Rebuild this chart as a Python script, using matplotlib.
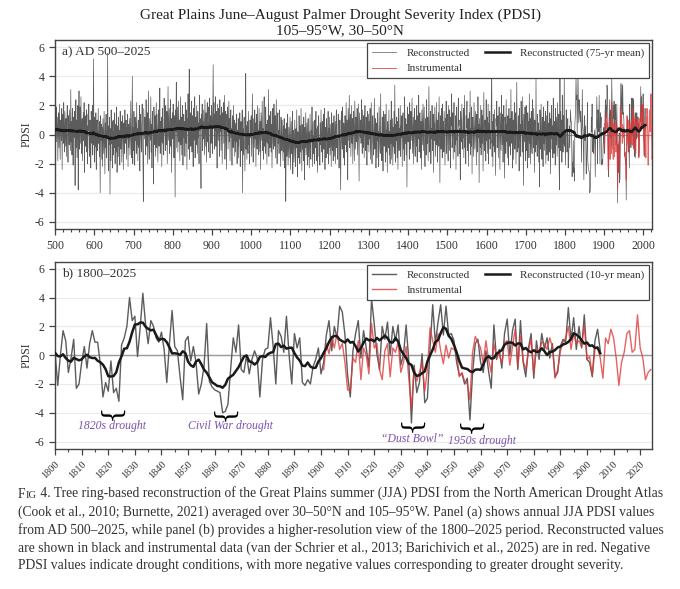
import numpy as np
import pandas as pd
import matplotlib
matplotlib.use("Agg")
import matplotlib.pyplot as plt
from matplotlib.ticker import MultipleLocator

plt.rcParams['font.family'] = ['Liberation Serif', 'DejaVu Serif']
plt.rcParams['axes.unicode_minus'] = False

# reconstructed JJA PDSI, AD 500-1799 (one row per decade)
recon_early = [
    2.3, -1.6, 0.8, 1.9, -0.5, 0.4, 1.2, -1.8, 0.6, 1.5,
    -0.9, 2.1, 0.3, -1.7, 1.0, 0.7, -0.4, 1.8, -2.4, 0.9,
    1.4, -0.6, 2.2, 0.2, -1.2, 1.6, 0.5, -0.8, 1.1, -1.5,
    0.8, 2.0, -0.3, -1.9, 1.3, 0.6, -0.7, 1.7, 0.1, -1.1,
    3.1, -0.5, 0.9, -1.4, 1.8, 0.4, -2.1, 1.2, 0.7, -0.2,
    1.6, -3.5, 0.3, 2.4, -0.9, 1.0, -1.6, 0.8, 2.0, -3.8,
    0.5, 3.0, -1.0, 0.2, 1.9, -0.6, 2.6, -1.3, 0.4, 1.1,
    -1.8, 0.7, 1.5, -0.4, 2.2, -2.6, 0.9, 1.3, -0.8, 0.2,
    1.7, -1.2, 0.6, -2.0, 1.4, 0.3, 2.1, -0.9, -1.5, 1.0,
    0.1, -2.3, 1.6, 0.8, -0.6, 2.0, -1.4, 0.4, 5.2, -0.7,
    1.2, -1.9, 0.3, -0.8, 1.5, -2.4, 0.6, 1.0, -1.1, -0.3,
    1.8, -0.6, 0.2, -1.5, 0.9, -4.0, 1.3, -0.4, 0.7, -1.7,
    0.5, -2.2, 1.1, 0.0, -1.3, 1.6, -0.5, -2.7, 0.8, -0.9,
    1.4, -1.6, 0.3, -0.2, 5.6, -1.1, -2.5, 0.6, -0.7, 1.2,
    -4.1, 0.4, -1.8, 1.7, -0.6, 0.9, -2.3, -0.1, 1.0, -1.4,
    0.2, -0.9, 1.5, -2.0, -0.3, 0.7, -1.2, 1.9, -2.6, -0.4,
    0.6, -1.5, 1.2, -0.8, 0.3, -2.1, 1.6, -0.5, -1.0, 0.9,
    -1.9, 0.4, 1.3, -0.7, -2.4, 0.8, 0.1, -1.3, 1.7, -0.2,
    -0.6, 1.0, -1.7, 0.5, -0.3, 1.4, -2.2, 0.7, -0.9, 0.2,
    1.1, -1.4, 0.3, 2.3, -0.8, -1.6, 0.9, 4.0, -2.0, 0.5,
    -1.1, 1.6, 0.2, -2.1, 1.2, -0.4, 0.8, -1.3, 2.2, -0.7,
    0.4, -1.8, 1.0, 0.6, -0.9, 2.0, -2.5, 0.3, 1.4, -0.2,
    -1.2, 0.9, 2.1, -0.5, -1.6, -4.6, 1.8, 0.7, -0.3, 1.2,
    0.6, -1.4, 2.4, -0.1, -0.8, 1.5, -2.0, 0.9, 3.0, -0.6,
    -1.7, 1.1, 0.3, -0.4, 2.6, -1.2, 0.7, -2.3, 1.6, 0.5,
    0.2, -3.4, 1.9, 0.8, -0.7, 1.3, -1.5, 0.4, 2.2, -0.9,
    1.4, -0.3, -1.9, 0.6, 1.7, -0.8, 0.2, 3.2, -1.3, 0.9,
    -0.5, 1.2, -2.2, 0.7, 1.8, -0.6, 0.3, -1.4, 2.5, 0.1,
    1.0, -1.1, 2.0, 0.4, -0.7, 1.6, -2.0, 0.9, 3.3, -0.4,
    0.6, 1.8, -1.3, 0.2, 2.4, -0.8, 1.1, -2.6, 0.7, 1.5,
    -0.3, 2.1, 0.5, -1.6, 1.3, 0.8, -4.3, 1.7, 0.2, 3.6,
    -0.9, 0.4, 1.9, -1.2, 0.6, 2.3, -0.5, 1.0, -1.8, 0.3,
    2.6, -0.7, 1.2, -1.4, 0.8, 2.0, -2.1, 0.5, 1.4, -0.2,
    0.9, -1.5, 2.2, 0.3, -0.6, 1.7, -2.4, 1.1, 0.4, 2.8,
    -1.0, 0.6, 4.5, -1.7, 0.9, 1.5, -0.8, 0.2, 2.3, -1.2,
    1.3, 0.5, -2.2, 1.8, -0.4, 0.7, 2.6, -1.6, 0.1, 1.2,
    -0.7, 2.0, 0.4, -1.3, 1.6, -0.2, 0.8, -2.0, 2.7, 0.3,
    1.1, -0.9, -3.7, 1.4, 0.6, 2.1, -1.1, 0.9, -0.3, 1.7,
    0.2, -1.4, 2.4, 0.7, -0.8, 1.5, -1.9, 1.0, 2.2, -0.5,
    0.8, -1.2, 1.9, 0.4, 2.5, -1.6, 0.3, 1.3, -0.6, 2.0,
    0.9, -1.3, 1.7, 4.8, 0.5, 2.2, -1.0, 1.4, 0.3, 2.6,
    -0.8, 1.6, 0.4, -2.3, 2.1, 0.9, -0.4, 1.8, 0.6, -1.5,
    2.4, 0.2, 1.3, -1.1, 1.9, 0.7, -2.0, 1.5, 0.4, 2.2,
    -0.6, 1.2, 2.7, -1.7, 0.8, 1.6, -0.3, -2.4, 1.4, 0.5,
    1.9, -1.0, 0.6, 2.3, -0.5, 1.1, -1.8, 0.9, 1.7, -0.2,
    0.4, -2.1, 1.3, 0.7, -0.9, 2.0, -0.4, 1.0, -1.5, 0.6,
    -1.2, 0.8, -0.5, 1.4, -2.0, 0.3, -0.8, 1.1, -1.6, 0.5,
    -0.3, 1.5, -2.2, 0.2, 0.9, -1.1, -0.6, 1.7, -4.0, 0.4,
    -1.4, 0.7, 1.2, -0.9, -2.5, 0.3, 4.2, -1.0, 0.6, -1.7,
    0.9, -0.4, -1.3, 1.6, -0.7, 0.1, -2.0, 1.0, -0.2, 0.8,
    1.3, -1.5, 0.4, 2.8, -0.6, -1.9, 1.1, 0.2, -0.9, 1.7,
    -0.3, 0.8, -2.2, 1.4, 0.5, -1.0, 2.0, -0.7, 0.3, -1.4,
    1.8, 0.1, -1.2, 0.9, -2.4, 1.5, 0.6, -0.4, 2.3, -1.1,
    0.4, -1.7, 1.2, 2.6, -0.8, 0.2, -1.3, 1.9, -0.5, 0.7,
    -2.0, 1.0, 0.3, -0.6, 3.1, -1.5, 0.5, 1.3, -0.9, -0.2,
    1.6, -1.2, 0.7, -2.3, 0.4, 1.8, -0.5, -1.0, 2.1, 0.2,
    -0.8, 1.3, -1.6, 0.6, 2.4, -0.3, -2.0, 0.9, 1.5, -0.6,
    0.3, -1.3, 1.7, 0.8, -0.7, -2.2, 1.2, 0.5, -1.1, 1.0,
    -0.4, -1.8, 0.6, -1.2, 1.1, -2.3, -0.6, 0.4, -4.6, -0.9,
    0.8, -1.5, -0.3, 1.4, -2.1, -0.7, 0.5, -1.6, -0.2, 1.2,
    -2.4, -0.5, 0.9, -1.3, -0.8, 1.6, -2.7, -0.1, 0.3, -1.9,
    -0.6, 1.0, -1.4, -2.2, 0.4, -0.9, 1.7, -1.1, -2.9, 0.2,
    -0.3, -1.6, 1.3, -0.7, -2.0, 0.6, -1.2, 1.8, -0.4, -2.5,
    0.7, -1.0, -0.2, -1.8, 1.2, -0.6, -3.1, 0.5, -0.9, 1.5,
    -1.4, -0.3, 0.8, -2.1, -0.7, 1.1, -1.5, 0.2, -2.3, -0.5,
    1.4, -0.8, -1.7, 0.3, -0.4, 1.9, -2.2, -0.6, 0.9, -1.3,
    -0.1, -2.0, 1.0, -0.9, -0.3, 1.6, -1.8, 0.4, -1.1, -2.6,
    0.6, -0.5, 1.3, -1.5, -0.2, -2.1, 0.8, -0.7, 1.7, -1.2,
    -0.6, 0.9, -1.9, 0.2, 1.4, -1.0, -0.4, 1.8, -2.4, 0.5,
    -0.8, -1.6, 1.1, 0.3, -1.3, -0.5, 1.6, -2.0, 0.4, -0.9,
    1.2, -1.4, -0.2, 0.7, -2.2, 1.5, -0.6, -1.1, 0.8, -1.8,
    0.1, 1.3, -1.5, -0.4, 0.9, -2.0, 0.5, 1.7, -0.9, -0.3,
    -1.7, 0.6, 1.4, -0.8, -2.3, 0.2, 1.0, -1.2, -3.8, 0.7,
    1.6, -0.5, -1.0, 1.9, -0.2, -1.6, 0.8, 0.4, -2.1, 1.3,
    0.5, -0.7, 2.2, -1.2, 1.0, 0.3, -3.1, 1.8, 0.6, -0.4,
    2.7, -0.9, 0.8, 1.4, -1.5, 0.2, 2.0, -0.6, 1.1, -2.0,
    0.7, 1.6, -0.3, -1.8, 2.3, 0.4, -1.0, 1.2, 0.9, -0.5,
    1.8, -1.4, 0.3, 2.1, -0.8, -3.2, 1.5, 0.6, -0.2, 1.0,
    -0.6, 2.4, 0.1, -1.3, 1.7, 0.5, -0.9, 1.3, -1.6, 0.8,
    2.0, -0.4, -1.1, 1.2, 0.6, -2.1, 1.6, 0.2, -0.7, 1.4,
    -1.2, 0.9, -0.3, 1.8, -1.7, 0.4, 2.2, -0.8, -2.0, 0.6,
    1.3, -0.5, -1.4, 0.7, 2.5, -1.0, -0.2, 1.1, -2.3, 0.3,
    0.8, -1.6, 1.5, -0.4, 0.2, -2.2, 1.9, 0.5, -0.9, -1.3,
    2.8, -0.7, 0.1, -1.8, 1.2, 0.4, -2.5, 1.6, -0.3, -0.8,
    0.6, 1.4, -1.9, -0.5, 2.1, -1.2, 0.3, -2.6, 0.9, -0.2,
    -0.9, 1.7, -1.4, 0.2, -2.0, 1.0, -0.6, 2.3, -1.7, -0.3,
    1.1, -2.1, 0.5, -0.8, 1.6, -1.3, 3.4, -0.4, -1.9, 0.7,
    -0.4, 1.2, -1.6, 0.9, -2.4, 0.3, 1.8, -1.1, 0.4, -0.7,
    2.0, -1.5, 0.6, -0.2, 1.3, -2.2, 0.8, 1.5, -1.0, 0.1,
    -1.8, 2.6, 0.2, -0.6, 1.1, -1.4, 0.7, -3.6, 1.9, 0.4,
    -0.5, 1.4, 0.8, -1.7, 2.2, 0.3, -1.0, 1.6, -0.4, 0.9,
    2.5, -1.3, 0.1, 1.2, -2.0, 0.7, 1.8, -0.6, -1.5, 1.0,
    0.4, -0.8, 2.0, -1.9, 0.6, 1.3, -0.3, 2.7, -1.2, -0.5,
    1.5, 0.2, -1.6, 0.9, -2.4, 1.7, 0.5, -0.7, 2.1, -1.1,
    0.3, 1.9, -0.9, -2.2, 1.1, 0.6, -1.4, 2.4, 0.1, -0.6,
    1.2, -1.8, 0.7, 3.3, -0.5, -1.2, 0.9, 1.6, -2.0, 0.4,
    -0.3, 2.0, -1.1, 0.5, 1.4, -2.6, 0.8, -0.4, 1.9, 0.2,
    -1.5, 0.6, 2.2, -0.7, 1.0, -1.9, 0.3, 1.5, -0.8, 2.6,
    -0.2, -3.3, 1.3, 0.4, -1.0, 1.8, 0.6, -1.6, 2.1, -0.4,
    0.9, -1.2, 1.6, -0.5, -2.1, 1.1, 0.3, 2.3, -1.3, 0.7,
    1.4, -0.6, -1.8, 2.0, 0.5, -1.1, 1.7, 0.2, -2.3, 1.2,
    0.6, 2.8, -0.9, -0.3, 1.5, -1.7, 0.8, 2.2, -1.2, 0.1,
    -0.7, 1.3, -2.4, 0.9, 1.9, -0.4, 0.3, -1.5, 2.5, 0.6,
    1.0, -1.3, 0.4, -3.1, 1.6, 0.7, -0.5, 2.1, -1.0, 0.3,
    -0.2, 1.8, -1.6, 0.8, 2.7, -0.9, 0.2, -2.0, 1.3, 0.5,
    2.3, -1.1, -0.4, 1.1, -2.2, 0.7, 1.5, -0.6, 3.0, -1.4,
    0.4, -0.8, 1.9, -2.7, 0.9, 1.2, -0.3, -1.5, 2.2, 0.6,
    -1.0, 0.3, 1.6, -0.5, -2.1, 1.4, 0.8, -1.2, 2.6, -0.2,
    0.7, -3.3, 1.1, 0.2, -0.9, 2.0, -1.4, 0.5, 1.7, -0.6,
    1.3, -2.5, 0.4, 2.9, -0.7, -1.1, 1.0, 0.3, -1.8, 2.4,
    -0.4, 1.2, -1.3, 0.6, 2.1, -2.0, 0.8, -0.3, 1.6, -1.0,
    0.2, -0.6, 2.5, 5.2, -1.5, 0.9, -2.2, 1.4, 0.5, -0.8,
    1.7, -1.2, 0.3, -2.8, 1.1, 0.6, 2.3, -0.9, -0.2, 1.3,
    -1.6, 0.8, 1.9, -0.4, -2.4, 1.5, 0.1, -1.1, 2.7, 0.4,
    -0.7, 1.4, -1.9, 0.6, 2.0, -0.3, -3.0, 1.2, 0.8, -1.3,
    2.4, -0.5, 0.7, -1.6, 1.3, 0.2, -2.1, 1.8, -0.8, 0.5,
    1.1, -1.4, 3.1, -0.6, -0.2, 1.6, -2.3, 0.4, 1.0, -1.7,
    0.9, 2.2, -1.0, -0.4, 1.5, -2.0, 0.6, 3.6, -1.2, 0.2,
    -0.9, 1.3, 0.5, -2.5, 1.8, -0.3, 0.7, -1.5, 2.3, 0.1,
    1.0, -1.2, 2.6, -0.7, -3.5, 1.4, 0.3, -0.5, 1.9, -1.8,
    0.6, 2.0, -1.1, 0.2, -2.3, 1.5, -0.4, 0.9, -1.6, 2.8,
    -0.6, 1.1, -2.0, 0.7, 1.6, -0.8, -1.3, 2.4, 0.3, -0.9,
    1.8, -0.2, -2.6, 1.0, 0.5, -1.2, 3.8, -0.7, 0.2, -1.5,
    1.4, -0.4, 0.8, -1.9, 0.3, -3.6, 1.7, 0.6, -1.0, 2.1,
    -0.3, -1.7, 1.2, 0.4, -2.2, 1.9, -0.6, 0.9, -1.1, 0.5,
    1.6, -2.0, -0.5, 1.3, -1.4, 0.2, 2.3, -1.8, -0.2, 0.8,
    -1.2, 1.5, 0.4, -2.7, 1.1, -0.3, 2.0, -1.0, 0.6, -1.6,
    2.5, -0.4, -1.3, 0.9, 0.3, -2.1, 1.8, -0.7, 1.2, -0.1,
    -1.5, 2.2, 0.6, -0.9, 1.4, -2.4, -3.8, 5.5, -1.1, 1.6,
    -0.5, 1.0, -1.9, 2.7, 0.2, -1.2, 1.3, -0.6, 3.9, -0.8,
]

# reconstructed JJA PDSI, 1800-2005
recon_late = [
    0.2, -2.1, 0.0, 1.7, 1.0, -1.2, -0.2, 1.1, -2.3, -2.0,
    -0.5, 0.6, -0.9, 0.8, 1.7, 0.9, 0.9, -0.6, -2.9, -1.9,
    -2.5, -0.4, -2.6, -2.3, -3.2, 0.7, 1.2, 2.0, 4.0, 2.4,
    2.7, -0.1, 1.9, 4.3, 2.2, 0.8, 2.4, 2.0, 1.2, 0.9,
    1.6, 0.4, -1.9, 0.8, 3.1, 0.6, 0.3, -1.5, -3.1, 1.0,
    1.3, -0.4, 0.6, -0.5, -2.7, -2.0, -0.8, 2.2, -1.8, -2.2,
    -2.4, -2.5, -2.6, -4.0, -3.9, -3.4, -1.0, 1.2, 0.2, 2.1,
    -1.0, -1.2, 0.0, -1.3, -0.3, 0.3, -0.2, -2.9, -0.3, 0.4,
    0.5, 2.6, 0.6, -2.0, 1.7, 1.3, 0.2, 2.7, 0.0, -2.0,
    1.5, 0.5, 1.2, -1.9, -2.1, -1.7, -2.0, -0.8, -0.3, 0.5,
    -1.3, -0.5, 1.4, 2.4, 0.3, 2.0, 1.2, 3.4, 3.0, 1.4,
    -1.4, -2.9, 0.3, 1.5, 2.4, -0.2, 1.7, 0.5, -0.8, 3.9,
    2.2, 0.1, -1.0, 2.0, 1.1, 2.3, 0.0, 2.0, 1.0, 2.1,
    -0.7, 0.0, 2.1, -0.4, -4.7, -0.7, -2.6, -1.9, 0.1, -3.3,
    -3.0, 0.5, 3.5, 0.8, 2.3, 3.5, 1.4, 3.4, 1.4, 1.5,
    1.0, -0.5, -1.4, -1.3, -2.0, -1.6, -4.5, -1.2, 0.8, 1.1,
    -0.5, -1.2, 0.3, -1.1, -2.3, 2.1, -0.3, 0.4, -0.9, 1.5,
    2.5, 0.0, 1.7, 2.5, -1.0, 2.4, -0.5, -1.5, 0.5, 1.5,
    -1.6, 1.0, -0.3, 1.5, 0.4, 1.2, -0.2, 0.8, -1.5, -1.2,
    0.6, 1.1, 0.9, 3.3, 1.0, 2.6, 0.4, 2.0, 0.5, 2.8,
    -0.3, -0.5, -1.5, 1.0, 1.8, 0.3,
]

# instrumental JJA PDSI, 1901-2024
instr_start = 1901
instrumental = [
    -1.0, 0.8, 0.1, 1.2, 0.5, 1.5, 0.4, 0.8, -0.5,
    -2.4, -2.5, -0.2, -0.5, 1.0, -1.7, 0.5, 0.0, -1.3, 2.2,
    0.5, 0.8, -1.0, -1.7, 0.3, 0.8, -1.5, 0.5, 0.2, 0.9,
    -1.2, -0.5, 0.6, -1.6, -3.7, -0.9, -1.8, -1.2, -0.5, -2.5,
    -1.0, 1.9, 1.0, 0.2, 1.5, 0.3, -0.6, 0.7, -0.2, 0.5,
    0.4, 0.2, -1.5, -1.2, -1.8, -2.0, -3.1, 0.2, 1.3, 0.9,
    0.5, -0.6, 1.0, -0.3, -1.2, 0.8, -0.2, 0.1, -0.6, 0.9,
    1.0, -0.7, 0.6, 1.8, -0.8, 1.3, -0.4, -1.0, 0.3, 1.1,
    -1.3, 0.5, 0.2, 0.9, 0.8, 0.4, 1.2, 0.6, -1.6, -1.0,
    0.3, 0.9, 1.2, 2.0, 0.4, 1.5, 0.8, 1.0, 0.6, 2.1,
    -0.3, -0.1, -1.4, 0.4, 0.6, -0.2, -1.6, 1.2, 0.8, 1.8,
    1.2, -0.2, -2.1, -0.5, 0.2, 1.5, 1.7, 0.2, 0.4, 2.8,
    0.5, -0.2, -1.7, -1.2, -1.0,
]

# drought annotations in panel b: (label, brace year, brace y, label year, label y)
droughts = [
    ("1820s drought", 1821.0, -3.95, 1821.5, -4.9),
    ("Civil War drought", 1863.5, -4.0, 1866.0, -4.9),
    ("\u201cDust Bowl\u201d", 1934.0, -4.75, 1934.3, -5.85),
    ("1950s drought", 1956.0, -4.8, 1960.5, -5.95),
]

recon = np.array(recon_early + recon_late)
recon_years = np.arange(1800 - len(recon_early), 1800 + len(recon_late))
instr = np.array(instrumental)
instr_years = np.arange(instr_start, instr_start + len(instr))
recon_s = pd.Series(recon, index=recon_years)
mean75 = recon_s.rolling(75, center=True, min_periods=38).mean()
late = recon_s.loc[1800:]
mean10 = late.rolling(10, center=True, min_periods=5).mean()

GRAY = '#5c5c5c'
RED = '#e03a3a'
PURPLE = '#7b52ab'
TXT = '#333333'

fig = plt.figure(figsize=(6.8, 5.89), dpi=100)
ax1 = fig.add_axes([0.081, 0.611, 0.878, 0.321])
ax2 = fig.add_axes([0.081, 0.238, 0.878, 0.318])

# panel a
ax1.axhline(0, color='#999999', lw=0.8, zorder=1)
ax1.plot(recon_years, recon, color=GRAY, lw=0.5, label='Reconstructed', zorder=2)
ax1.plot(instr_years, instr, color=RED, lw=0.7, alpha=0.8, label='Instrumental', zorder=3)
ax1.plot(mean75.index, mean75.values, color='#1a1a1a', lw=1.8,
         label='Reconstructed (75-yr mean)', zorder=4)
ax1.set_xlim(500, 2022)
ax1.xaxis.set_major_locator(MultipleLocator(100))
ax1.xaxis.set_minor_locator(MultipleLocator(20))
ax1.text(0.012, 0.935, 'a) AD 500\u20132025', transform=ax1.transAxes,
         fontsize=9.5, va='center', ha='left', color=TXT)

# panel b
ax2.axhline(0, color='#999999', lw=1.0, zorder=1)
ax2.plot(late.index, late.values, color=GRAY, lw=1.0, label='Reconstructed', zorder=2)
ax2.plot(instr_years, instr, color=RED, lw=1.0, alpha=0.8, label='Instrumental', zorder=3)
ax2.plot(mean10.index, mean10.values, color='#1a1a1a', lw=1.8,
         label='Reconstructed (10-yr mean)', zorder=4)
ax2.set_xlim(1800, 2024.5)
ax2.xaxis.set_major_locator(MultipleLocator(10))
ax2.xaxis.set_minor_locator(MultipleLocator(5))
plt.setp(ax2.get_xticklabels(), rotation=45, ha='right', rotation_mode='anchor')
ax2.text(0.012, 0.935, 'b) 1800\u20132025', transform=ax2.transAxes,
         fontsize=9.5, va='center', ha='left', color=TXT)

for label, bx, by, tx, ty in droughts:
    ax2.text(bx, by, '{', rotation=90, ha='center', va='center', fontsize=19,
             color='black', family='DejaVu Serif', zorder=5)
    ax2.text(tx, ty, label, ha='center', va='center', fontsize=8.5,
             style='italic', color=PURPLE, zorder=5)

for ax in (ax1, ax2):
    ax.set_ylim(-6.5, 6.5)
    ax.yaxis.set_major_locator(MultipleLocator(2))
    ax.set_ylabel('PDSI', fontsize=8.5, labelpad=2, color=TXT)
    ax.grid(axis='y', color='#ebebeb', lw=0.8, zorder=0)
    ax.set_axisbelow(True)
    ax.tick_params(axis='both', labelsize=8.5, color='#444444', labelcolor=TXT,
                   length=4, width=0.9)
    ax.tick_params(axis='x', which='minor', length=2.5, width=0.8, color='#444444')
    for sp in ax.spines.values():
        sp.set_color('#444444')
        sp.set_linewidth(1.0)
    leg = ax.legend(loc='upper right', ncol=2, fontsize=8, frameon=True,
                    fancybox=False, edgecolor='#444444', framealpha=1,
                    borderaxespad=0.3, handlelength=2.2, columnspacing=1.4,
                    labelspacing=0.5, borderpad=0.45, handletextpad=0.9)
    leg.get_frame().set_linewidth(0.9)
    for t in leg.get_texts():
        t.set_color(TXT)
ax2.tick_params(axis='x', labelsize=7.5)

fig.text(0.5, 1 - 15 / 589, 'Great Plains June\u2013August Palmer Drought Severity Index (PDSI)',
         ha='center', va='center', fontsize=11, color='#222222')
fig.text(0.5, 1 - 31 / 589, '105\u201395\u00b0W, 30\u201350\u00b0N',
         ha='center', va='center', fontsize=11, color='#222222')

# caption
cap_size = 9.8
cap_lines = [
    ' 4. Tree ring-based reconstruction of the Great Plains summer (JJA) PDSI from the North American Drought Atlas',
    '(Cook et al., 2010; Burnette, 2021) averaged over 30\u201350\u00b0N and 105\u201395\u00b0W. Panel (a) shows annual JJA PDSI values',
    'from AD 500\u20132025, while panel (b) provides a higher-resolution view of the 1800\u20132025 period. Reconstructed values',
    'are shown in black and instrumental data (van der Schrier et al., 2013; Barichivich et al., 2025) are in red. Negative',
    'PDSI values indicate drought conditions, with more negative values corresponding to greater drought severity.',
]
cap_x = 18 / 680
cap_y0 = 494
t0 = ax2.annotate('F', xy=(cap_x, 1 - cap_y0 / 589), xycoords='figure fraction',
                  va='center', ha='left', fontsize=cap_size, color=TXT,
                  annotation_clip=False)
t1 = ax2.annotate('IG', xy=(1, 0), xycoords=t0, va='bottom', ha='left',
                  fontsize=cap_size * 0.78, color=TXT, annotation_clip=False)
ax2.annotate(cap_lines[0], xy=(1, 0), xycoords=t1, va='bottom', ha='left',
             fontsize=cap_size, color=TXT, annotation_clip=False)
for i, line in enumerate(cap_lines[1:], start=1):
    fig.text(cap_x, 1 - (cap_y0 + 18 * i) / 589, line, ha='left', va='center',
             fontsize=cap_size, color=TXT)

fig.savefig('out.png', dpi=100)
